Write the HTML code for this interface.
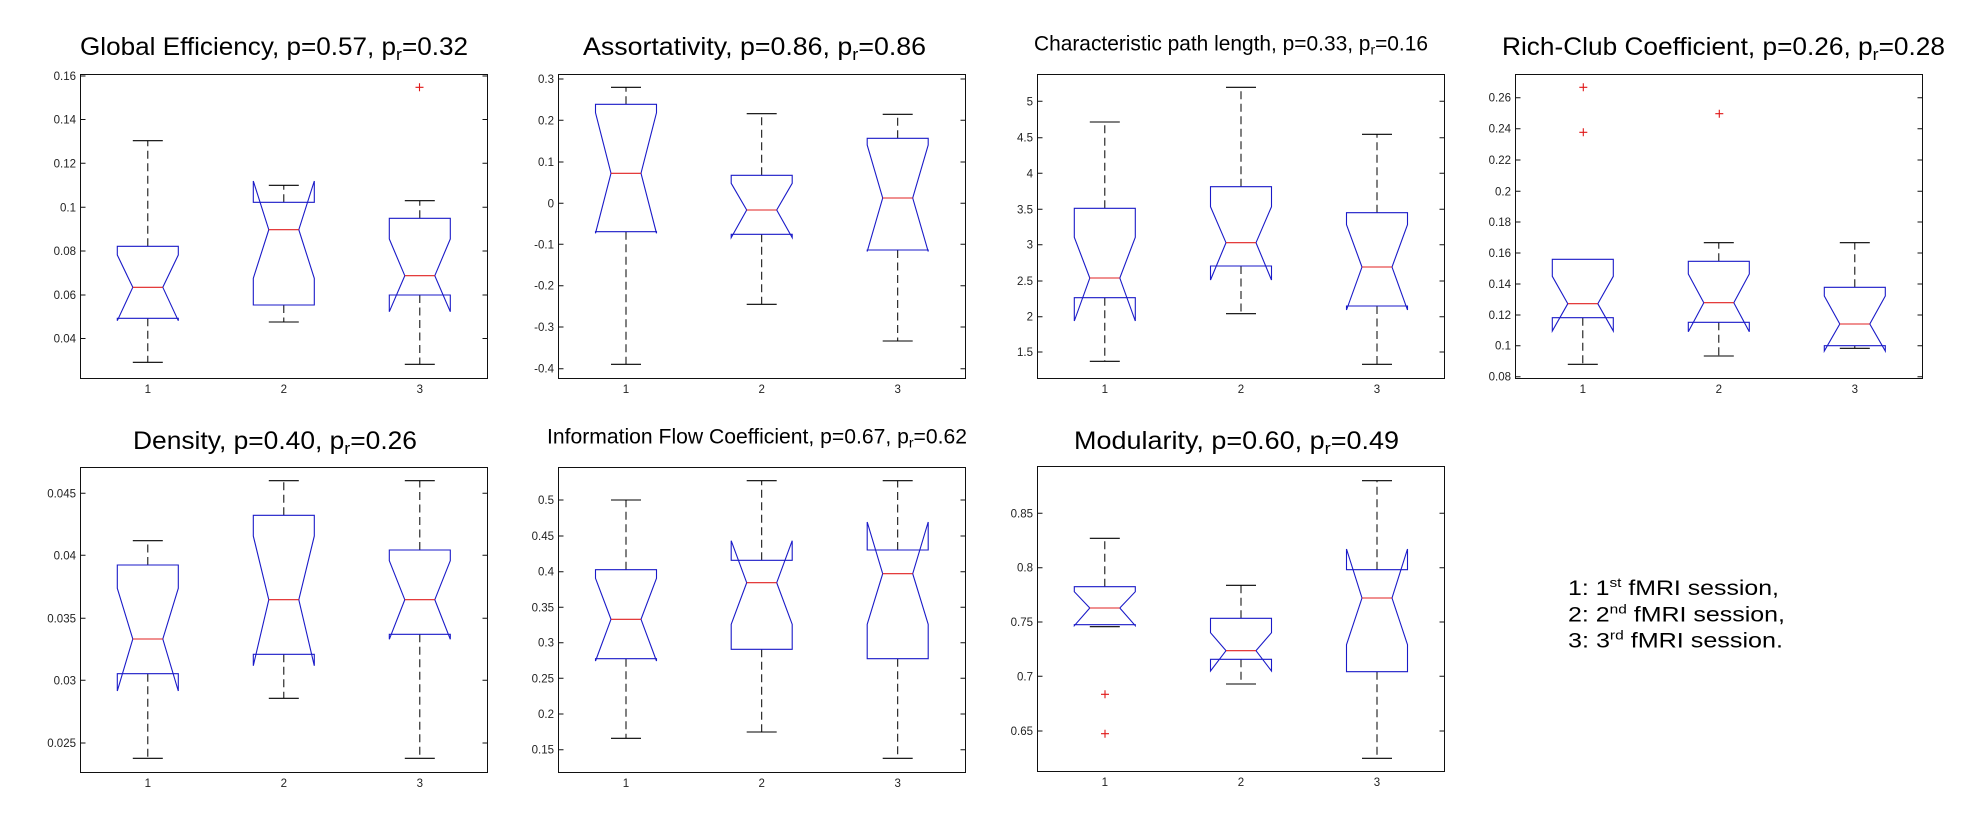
<!DOCTYPE html>
<html><head><meta charset="utf-8"><style>
html,body{margin:0;padding:0;background:#fff;}
svg{display:block;}
.ax{fill:none;stroke:#111;stroke-width:1;}
.tk{stroke:#111;stroke-width:1;}
.tl{font-family:"Liberation Sans",Arial,sans-serif;font-size:11.5px;fill:#222;}
.xl{font-family:"Liberation Sans",Arial,sans-serif;font-size:11.5px;fill:#222;text-anchor:middle;}
.ttl{font-family:"Liberation Sans",Arial,sans-serif;fill:#000;}
.bx{fill:none;stroke:#1a1ac8;stroke-width:1.1;}
.md{stroke:#e02020;stroke-width:1.1;}
.wh{stroke:#000;stroke-width:1;stroke-dasharray:8,4.5;}
.cp{stroke:#000;stroke-width:1.1;}
.ol{stroke:#e01818;stroke-width:1.1;}
.lg{font-family:"Liberation Sans",Arial,sans-serif;font-size:21px;fill:#000;}
</style></head><body>
<svg width="1974" height="834" viewBox="0 0 1974 834" xmlns="http://www.w3.org/2000/svg">
<rect width="1974" height="834" fill="#fff"/>

<!-- Titles -->
<text class="ttl" x="80" y="55" font-size="25" textLength="388" lengthAdjust="spacingAndGlyphs">Global Efficiency, p=0.57, p<tspan font-size="17" dy="5">r</tspan><tspan dy="-5">=0.32</tspan></text>
<text class="ttl" x="583" y="55" font-size="25" textLength="343" lengthAdjust="spacingAndGlyphs">Assortativity, p=0.86, p<tspan font-size="17" dy="5">r</tspan><tspan dy="-5">=0.86</tspan></text>
<text class="ttl" x="1034" y="50.7" font-size="21" textLength="394" lengthAdjust="spacingAndGlyphs">Characteristic path length, p=0.33, p<tspan font-size="14" dy="4">r</tspan><tspan dy="-4">=0.16</tspan></text>
<text class="ttl" x="1502" y="55" font-size="25" textLength="443" lengthAdjust="spacingAndGlyphs">Rich-Club Coefficient, p=0.26, p<tspan font-size="17" dy="5">r</tspan><tspan dy="-5">=0.28</tspan></text>
<text class="ttl" x="133" y="449" font-size="25" textLength="284" lengthAdjust="spacingAndGlyphs">Density, p=0.40, p<tspan font-size="17" dy="5">r</tspan><tspan dy="-5">=0.26</tspan></text>
<text class="ttl" x="547" y="443.3" font-size="21" textLength="420" lengthAdjust="spacingAndGlyphs">Information Flow Coefficient, p=0.67, p<tspan font-size="14" dy="4">r</tspan><tspan dy="-4">=0.62</tspan></text>
<text class="ttl" x="1074" y="449" font-size="25" textLength="325" lengthAdjust="spacingAndGlyphs">Modularity, p=0.60, p<tspan font-size="17" dy="5">r</tspan><tspan dy="-5">=0.49</tspan></text>

<!-- Legend -->
<text class="lg" x="1568" y="595" textLength="211" lengthAdjust="spacingAndGlyphs">1: 1<tspan font-size="13" dy="-8">st</tspan><tspan dy="8"> fMRI session,</tspan></text>
<text class="lg" x="1568" y="621.7" textLength="217" lengthAdjust="spacingAndGlyphs">2: 2<tspan font-size="13" dy="-8">nd</tspan><tspan dy="8"> fMRI session,</tspan></text>
<text class="lg" x="1568" y="647.3" textLength="215" lengthAdjust="spacingAndGlyphs">3: 3<tspan font-size="13" dy="-8">rd</tspan><tspan dy="8"> fMRI session.</tspan></text>

<!-- ========== Panel 1 ========== -->
<rect class="ax" x="80.5" y="74.5" width="407" height="304"/>
<g class="tk">
<path d="M80.5 76h5M487.5 76h-5M80.5 119.5h5M487.5 119.5h-5M80.5 163.3h5M487.5 163.3h-5M80.5 207.3h5M487.5 207.3h-5M80.5 251h5M487.5 251h-5M80.5 295h5M487.5 295h-5M80.5 338.5h5M487.5 338.5h-5"/>
</g>
<g class="tl" text-anchor="end">
<text x="76" y="80">0.16</text><text x="76" y="123.5">0.14</text><text x="76" y="167.3">0.12</text><text x="76" y="211.3">0.1</text><text x="76" y="255">0.08</text><text x="76" y="299">0.06</text><text x="76" y="342.5">0.04</text>
</g>
<g class="xl"><text x="147.8" y="393">1</text><text x="283.8" y="393">2</text><text x="419.8" y="393">3</text></g>
<path class="wh" d="M147.8 246.3V140.7M147.8 318.3V362.3M283.8 202.3V185.3M283.8 305V322M419.8 218.3V200.7M419.8 295V364.3"/>
<path class="cp" d="M132.8 140.7h30M132.8 362.3h30M268.8 185.3h30M268.8 322h30M404.8 200.7h30M404.8 364.3h30"/>
<polygon class="bx" points="117.3,318.3 117.3,320.7 132.8,287.3 117.3,255 117.3,246.3 178.3,246.3 178.3,255 162.8,287.3 178.3,320.7 178.3,318.3"/>
<polygon class="bx" points="253.3,305 253.3,278.3 268.8,229.7 253.3,181 253.3,202.3 314.3,202.3 314.3,181 298.8,229.7 314.3,278.3 314.3,305"/>
<polygon class="bx" points="389.3,295 389.3,311.7 404.8,275.7 389.3,239 389.3,218.3 450.3,218.3 450.3,239 434.8,275.7 450.3,311.7 450.3,295"/>
<path class="md" d="M132.8 287.3h30M268.8 229.7h30M404.8 275.7h30"/>
<path class="ol" d="M415.5 87.3h8M419.5 83.3v8"/>

<!-- ========== Panel 2 ========== -->
<rect class="ax" x="558.5" y="74.5" width="407" height="304"/>
<g class="tk">
<path d="M558.5 79h5M965.5 79h-5M558.5 120.3h5M965.5 120.3h-5M558.5 162h5M965.5 162h-5M558.5 203.3h5M965.5 203.3h-5M558.5 244.3h5M965.5 244.3h-5M558.5 285.7h5M965.5 285.7h-5M558.5 327h5M965.5 327h-5M558.5 368.7h5M965.5 368.7h-5"/>
</g>
<g class="tl" text-anchor="end">
<text x="554" y="83">0.3</text><text x="554" y="124.3">0.2</text><text x="554" y="166">0.1</text><text x="554" y="207.3">0</text><text x="554" y="248.3">-0.1</text><text x="554" y="289.7">-0.2</text><text x="554" y="331">-0.3</text><text x="554" y="372.7">-0.4</text>
</g>
<g class="xl"><text x="626" y="393">1</text><text x="761.7" y="393">2</text><text x="897.7" y="393">3</text></g>
<path class="wh" d="M626 104.3V87.3M626 231.7V364.3M761.7 175.3V113.7M761.7 234.3V304.3M897.7 138.3V114.3M897.7 250V341"/>
<path class="cp" d="M611 87.3h30M611 364.3h30M746.7 113.7h30M746.7 304.3h30M882.7 114.3h30M882.7 341h30"/>
<polygon class="bx" points="595.5,231.7 595.5,233.3 611,173.3 595.5,112.7 595.5,104.3 656.5,104.3 656.5,112.7 641,173.3 656.5,233.3 656.5,231.7"/>
<polygon class="bx" points="731.2,234.3 731.2,237.7 746.7,210 731.2,183.3 731.2,175.3 792.2,175.3 792.2,183.3 776.7,210 792.2,237.7 792.2,234.3"/>
<polygon class="bx" points="867.2,250 867.2,251.5 882.7,198 867.2,145 867.2,138.3 928.2,138.3 928.2,145 912.7,198 928.2,251.5 928.2,250"/>
<path class="md" d="M611 173.3h30M746.7 210h30M882.7 198h30"/>

<!-- ========== Panel 3 ========== -->
<rect class="ax" x="1037.5" y="74.5" width="407" height="304"/>
<g class="tk">
<path d="M1037.5 101.3h5M1444.5 101.3h-5M1037.5 137.7h5M1444.5 137.7h-5M1037.5 173.3h5M1444.5 173.3h-5M1037.5 209.3h5M1444.5 209.3h-5M1037.5 244.7h5M1444.5 244.7h-5M1037.5 281h5M1444.5 281h-5M1037.5 316.7h5M1444.5 316.7h-5M1037.5 352h5M1444.5 352h-5"/>
</g>
<g class="tl" text-anchor="end">
<text x="1033" y="105.3">5</text><text x="1033" y="141.7">4.5</text><text x="1033" y="177.3">4</text><text x="1033" y="213.3">3.5</text><text x="1033" y="248.7">3</text><text x="1033" y="285">2.5</text><text x="1033" y="320.7">2</text><text x="1033" y="356">1.5</text>
</g>
<g class="xl"><text x="1104.8" y="393">1</text><text x="1241" y="393">2</text><text x="1377" y="393">3</text></g>
<path class="wh" d="M1104.8 208.3V122M1104.8 297.7V361.3M1241 186.7V87.3M1241 266V313.7M1377 212.7V134.3M1377 306V364.3"/>
<path class="cp" d="M1089.8 122h30M1089.8 361.3h30M1226 87.3h30M1226 313.7h30M1362 134.3h30M1362 364.3h30"/>
<polygon class="bx" points="1074.3,297.7 1074.3,321 1089.8,278 1074.3,237.3 1074.3,208.3 1135.3,208.3 1135.3,237.3 1119.8,278 1135.3,321 1135.3,297.7"/>
<polygon class="bx" points="1210.5,266 1210.5,280 1226,242.7 1210.5,206.7 1210.5,186.7 1271.5,186.7 1271.5,206.7 1256,242.7 1271.5,280 1271.5,266"/>
<polygon class="bx" points="1346.5,306 1346.5,310 1362,267 1346.5,224.7 1346.5,212.7 1407.5,212.7 1407.5,224.7 1392,267 1407.5,310 1407.5,306"/>
<path class="md" d="M1089.8 278h30M1226 242.7h30M1362 267h30"/>

<!-- ========== Panel 4 ========== -->
<rect class="ax" x="1515.5" y="74.5" width="407" height="304"/>
<g class="tk">
<path d="M1515.5 97.7h5M1922.5 97.7h-5M1515.5 128.7h5M1922.5 128.7h-5M1515.5 160h5M1922.5 160h-5M1515.5 191.3h5M1922.5 191.3h-5M1515.5 222h5M1922.5 222h-5M1515.5 253h5M1922.5 253h-5M1515.5 284h5M1922.5 284h-5M1515.5 315h5M1922.5 315h-5M1515.5 345.7h5M1922.5 345.7h-5M1515.5 376.7h5M1922.5 376.7h-5"/>
</g>
<g class="tl" text-anchor="end">
<text x="1511" y="101.7">0.26</text><text x="1511" y="132.7">0.24</text><text x="1511" y="164">0.22</text><text x="1511" y="195.3">0.2</text><text x="1511" y="226">0.18</text><text x="1511" y="257">0.16</text><text x="1511" y="288">0.14</text><text x="1511" y="319">0.12</text><text x="1511" y="349.7">0.1</text><text x="1511" y="380.7">0.08</text>
</g>
<g class="xl"><text x="1582.8" y="393">1</text><text x="1718.8" y="393">2</text><text x="1854.8" y="393">3</text></g>
<path class="wh" d="M1582.8 317.7V364.3M1718.8 261.3V242.7M1718.8 322.3V356M1854.8 287.3V242.7M1854.8 345.7V348.3"/>
<path class="cp" d="M1567.8 364.3h30M1703.8 242.7h30M1703.8 356h30M1839.8 242.7h30M1839.8 348.3h30"/>
<polygon class="bx" points="1552.3,317.7 1552.3,331 1567.8,303.7 1552.3,276.3 1552.3,259.3 1613.3,259.3 1613.3,276.3 1597.8,303.7 1613.3,331 1613.3,317.7"/>
<polygon class="bx" points="1688.3,322.3 1688.3,331.7 1703.8,302.7 1688.3,274 1688.3,261.3 1749.3,261.3 1749.3,274 1733.8,302.7 1749.3,331.7 1749.3,322.3"/>
<polygon class="bx" points="1824.3,345.7 1824.3,351 1839.8,324 1824.3,296 1824.3,287.3 1885.3,287.3 1885.3,296 1869.8,324 1885.3,351 1885.3,345.7"/>
<path class="md" d="M1567.8 303.7h30M1703.8 302.7h30M1839.8 324h30"/>
<path class="ol" d="M1579.3 87.3h8M1583.3 83.3v8M1579.3 132.3h8M1583.3 128.3v8M1715.3 113.7h8M1719.3 109.7v8"/>

<!-- ========== Panel 5 ========== -->
<rect class="ax" x="80.5" y="467.5" width="407" height="305"/>
<g class="tk">
<path d="M80.5 493.3h5M487.5 493.3h-5M80.5 555.3h5M487.5 555.3h-5M80.5 618.3h5M487.5 618.3h-5M80.5 680.3h5M487.5 680.3h-5M80.5 743h5M487.5 743h-5"/>
</g>
<g class="tl" text-anchor="end">
<text x="76" y="497.3">0.045</text><text x="76" y="559.3">0.04</text><text x="76" y="622.3">0.035</text><text x="76" y="684.3">0.03</text><text x="76" y="747">0.025</text>
</g>
<g class="xl"><text x="147.8" y="787">1</text><text x="283.8" y="787">2</text><text x="419.8" y="787">3</text></g>
<path class="wh" d="M147.8 565V540.7M147.8 673.7V758.3M283.8 515.3V480.7M283.8 654.3V698.3M419.8 550V480.7M419.8 634.3V758.3"/>
<path class="cp" d="M132.8 540.7h30M132.8 758.3h30M268.8 480.7h30M268.8 698.3h30M404.8 480.7h30M404.8 758.3h30"/>
<polygon class="bx" points="117.3,673.7 117.3,691 132.8,639 117.3,588.3 117.3,565 178.3,565 178.3,588.3 162.8,639 178.3,691 178.3,673.7"/>
<polygon class="bx" points="253.3,654.3 253.3,665.7 268.8,599.7 253.3,536 253.3,515.3 314.3,515.3 314.3,536 298.8,599.7 314.3,665.7 314.3,654.3"/>
<polygon class="bx" points="389.3,634.3 389.3,639.3 404.8,599.7 389.3,560.7 389.3,550 450.3,550 450.3,560.7 434.8,599.7 450.3,639.3 450.3,634.3"/>
<path class="md" d="M132.8 639h30M268.8 599.7h30M404.8 599.7h30"/>

<!-- ========== Panel 6 ========== -->
<rect class="ax" x="558.5" y="467.5" width="407" height="305"/>
<g class="tk">
<path d="M558.5 500h5M965.5 500h-5M558.5 536h5M965.5 536h-5M558.5 571.7h5M965.5 571.7h-5M558.5 607.3h5M965.5 607.3h-5M558.5 642.7h5M965.5 642.7h-5M558.5 678.3h5M965.5 678.3h-5M558.5 714h5M965.5 714h-5M558.5 749.7h5M965.5 749.7h-5"/>
</g>
<g class="tl" text-anchor="end">
<text x="554" y="504">0.5</text><text x="554" y="540">0.45</text><text x="554" y="575.7">0.4</text><text x="554" y="611.3">0.35</text><text x="554" y="646.7">0.3</text><text x="554" y="682.3">0.25</text><text x="554" y="718">0.2</text><text x="554" y="753.7">0.15</text>
</g>
<g class="xl"><text x="626" y="787">1</text><text x="761.7" y="787">2</text><text x="897.7" y="787">3</text></g>
<path class="wh" d="M626 569.7V500M626 658.7V738.3M761.7 560.3V480.7M761.7 649.3V732M897.7 550V480.7M897.7 658.7V758.3"/>
<path class="cp" d="M611 500h30M611 738.3h30M746.7 480.7h30M746.7 732h30M882.7 480.7h30M882.7 758.3h30"/>
<polygon class="bx" points="595.5,658.7 595.5,661 611,619.3 595.5,578.3 595.5,569.7 656.5,569.7 656.5,578.3 641,619.3 656.5,661 656.5,658.7"/>
<polygon class="bx" points="731.2,649.3 731.2,624.3 746.7,582.7 731.2,540.7 731.2,560.3 792.2,560.3 792.2,540.7 776.7,582.7 792.2,624.3 792.2,649.3"/>
<polygon class="bx" points="867.2,658.7 867.2,624.3 882.7,573.7 867.2,522 867.2,550 928.2,550 928.2,522 912.7,573.7 928.2,624.3 928.2,658.7"/>
<path class="md" d="M611 619.3h30M746.7 582.7h30M882.7 573.7h30"/>

<!-- ========== Panel 7 ========== -->
<rect class="ax" x="1037.5" y="466.5" width="407" height="305"/>
<g class="tk">
<path d="M1037.5 513.3h5M1444.5 513.3h-5M1037.5 567.7h5M1444.5 567.7h-5M1037.5 622h5M1444.5 622h-5M1037.5 676.3h5M1444.5 676.3h-5M1037.5 731h5M1444.5 731h-5"/>
</g>
<g class="tl" text-anchor="end">
<text x="1033" y="517.3">0.85</text><text x="1033" y="571.7">0.8</text><text x="1033" y="626">0.75</text><text x="1033" y="680.3">0.7</text><text x="1033" y="735">0.65</text>
</g>
<g class="xl"><text x="1104.8" y="786">1</text><text x="1241" y="786">2</text><text x="1377" y="786">3</text></g>
<path class="wh" d="M1104.8 586.7V538.3M1241 618.3V585.3M1241 659.3V684M1377 569.7V480.7M1377 671.7V758.3"/>
<path class="cp" d="M1089.8 538.3h30M1089.8 626.7h30M1226 585.3h30M1226 684h30M1362 480.7h30M1362 758.3h30"/>
<polygon class="bx" points="1074.3,624.7 1074.3,625.7 1089.8,608 1074.3,591.7 1074.3,586.7 1135.3,586.7 1135.3,591.7 1119.8,608 1135.3,625.7 1135.3,624.7"/>
<polygon class="bx" points="1210.5,659.3 1210.5,671 1226,650.7 1210.5,632.7 1210.5,618.3 1271.5,618.3 1271.5,632.7 1256,650.7 1271.5,671 1271.5,659.3"/>
<polygon class="bx" points="1346.5,671.7 1346.5,644.7 1362,598 1346.5,549 1346.5,569.7 1407.5,569.7 1407.5,549 1392,598 1407.5,644.7 1407.5,671.7"/>
<path class="md" d="M1089.8 608h30M1226 650.7h30M1362 598h30"/>
<path class="ol" d="M1101 694.3h8M1105 690.3v8M1101 733.7h8M1105 729.7v8"/>
</svg>
</body></html>
